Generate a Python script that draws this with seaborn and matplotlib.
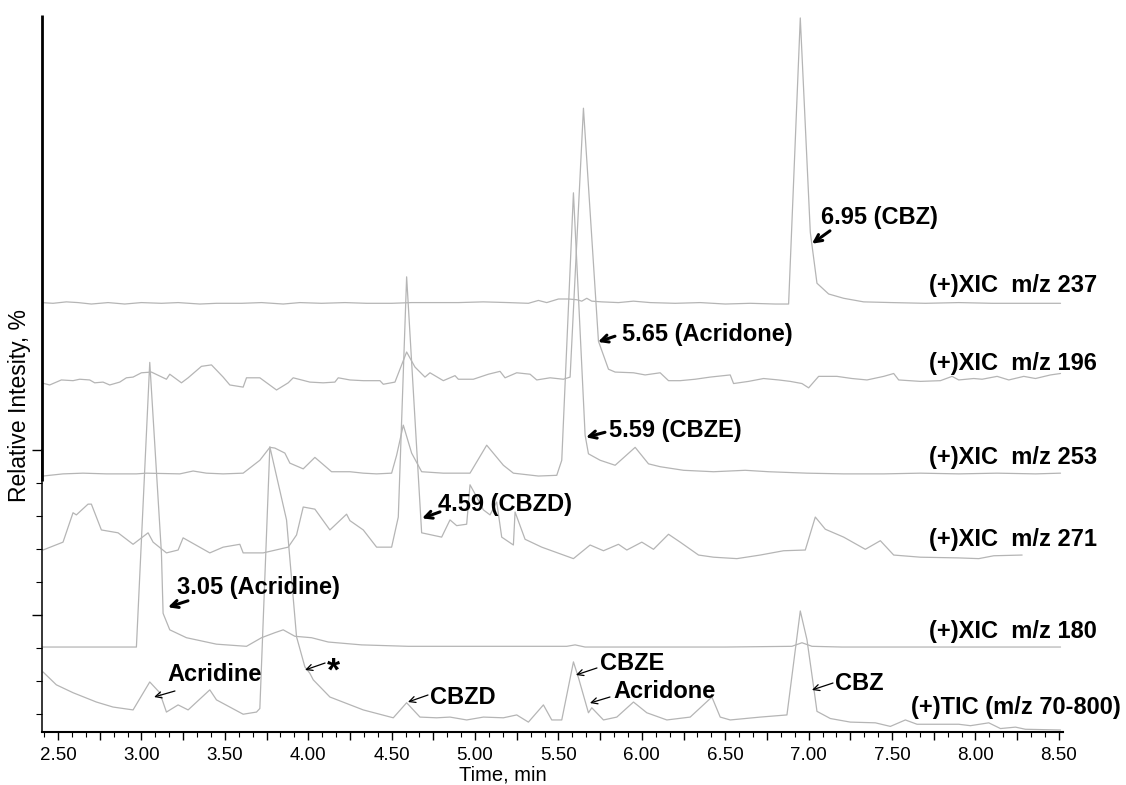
import matplotlib
matplotlib.use("Agg")
import matplotlib.pyplot as plt
from matplotlib.ticker import MultipleLocator, FuncFormatter, FixedLocator
import pandas as pd
import seaborn as sns

# ---- chromatogram traces: (retention time in min, signal above the trace baseline) ----
xic_237 = [(2.40, 0.2), (2.47, 0.1), (2.55, 0.3), (2.62, 0.2), (2.70, 0.0), (2.80, 0.2),
           (2.90, 0.0), (3.00, 0.2), (3.12, 0.1), (3.22, 0.2), (3.35, 0.0), (3.45, 0.1),
           (3.60, 0.1), (3.72, 0.2), (3.85, 0.0), (3.95, 0.2), (4.08, 0.1), (4.22, 0.2),
           (4.35, 0.1), (4.50, 0.1), (4.62, 0.2), (4.75, 0.2), (4.90, 0.2), (5.05, 0.3),
           (5.20, 0.2), (5.32, 0.1), (5.38, 0.5), (5.43, 0.2), (5.50, 0.7), (5.56, 0.7),
           (5.61, 0.6), (5.64, 0.4), (5.67, 0.8), (5.70, 0.4), (5.76, 0.3), (5.86, 0.2),
           (5.95, 0.4), (6.05, 0.2), (6.20, 0.1), (6.35, 0.2), (6.50, 0.0), (6.65, 0.1),
           (6.80, 0.0), (6.88, 0.0), (6.95, 39.9), (7.01, 10.0), (7.05, 2.9), (7.12, 1.4),
           (7.21, 0.8), (7.33, 0.3), (7.50, 0.2), (7.70, 0.1), (7.90, 0.2), (8.10, 0.1),
           (8.30, 0.1), (8.51, 0.1)]

xic_196 = [(2.40, 1.0), (2.45, 0.7), (2.52, 1.4), (2.59, 1.3), (2.63, 1.5), (2.69, 1.4),
           (2.72, 1.0), (2.77, 1.1), (2.81, 0.7), (2.87, 1.1), (2.91, 1.7), (2.95, 1.8),
           (3.00, 2.4), (3.06, 2.5), (3.15, 1.5), (3.17, 2.2), (3.24, 1.0), (3.28, 1.7),
           (3.36, 3.3), (3.42, 3.5), (3.49, 1.8), (3.53, 0.7), (3.61, 0.4), (3.63, 1.7),
           (3.71, 1.7), (3.81, 0.0), (3.88, 1.0), (3.91, 1.7), (4.01, 1.1), (4.09, 1.0),
           (4.16, 1.1), (4.18, 1.7), (4.25, 1.4), (4.33, 1.3), (4.43, 1.3), (4.45, 0.8),
           (4.52, 1.1), (4.59, 5.3), (4.64, 3.2), (4.70, 1.8), (4.73, 2.4), (4.81, 1.3),
           (4.88, 2.0), (4.90, 1.5), (4.99, 1.5), (5.08, 2.2), (5.15, 2.6), (5.18, 1.7),
           (5.25, 2.4), (5.33, 2.2), (5.37, 1.4), (5.45, 1.7), (5.53, 1.5), (5.57, 1.8),
           (5.65, 39.3), (5.74, 6.8), (5.80, 2.9), (5.84, 2.5), (5.95, 2.4), (6.02, 2.1),
           (6.11, 2.4), (6.16, 1.3), (6.23, 1.3), (6.32, 1.5), (6.41, 1.8), (6.53, 2.1),
           (6.55, 0.9), (6.64, 1.2), (6.73, 1.6), (6.82, 1.4), (6.89, 1.2), (6.96, 0.9),
           (7.00, 0.3), (7.06, 1.9), (7.17, 1.9), (7.26, 1.6), (7.35, 1.4), (7.45, 1.9),
           (7.51, 2.3), (7.54, 1.4), (7.67, 1.2), (7.79, 1.3), (7.86, 1.9), (7.90, 1.4),
           (7.99, 1.6), (8.04, 1.5), (8.13, 1.9), (8.20, 1.4), (8.29, 1.9), (8.36, 1.6),
           (8.45, 2.1), (8.51, 2.3)]

xic_253 = [(2.41, 0.0), (2.53, 0.3), (2.65, 0.4), (2.79, 0.3), (2.97, 0.3), (3.03, 0.4),
           (3.23, 0.3), (3.31, 0.7), (3.39, 0.4), (3.49, 0.3), (3.61, 0.4), (3.71, 2.2),
           (3.77, 4.0), (3.80, 3.9), (3.86, 3.2), (3.89, 1.8), (3.97, 1.0), (4.04, 2.6),
           (4.14, 0.6), (4.25, 0.6), (4.33, 0.4), (4.41, 0.3), (4.50, 0.4), (4.53, 2.9),
           (4.57, 7.1), (4.62, 3.2), (4.68, 0.6), (4.81, 0.4), (4.97, 0.4), (5.07, 4.3),
           (5.17, 1.5), (5.23, 0.4), (5.38, 0.0), (5.49, 0.1), (5.52, 2.2), (5.59, 39.5),
           (5.66, 5.7), (5.68, 3.1), (5.75, 2.2), (5.84, 1.5), (5.96, 4.0), (6.04, 1.7),
           (6.11, 1.3), (6.25, 0.8), (6.43, 0.6), (6.62, 0.8), (6.76, 0.6), (6.99, 0.4),
           (7.21, 0.3), (7.45, 0.3), (7.67, 0.4), (7.90, 0.3), (8.13, 0.4), (8.36, 0.3),
           (8.51, 0.4)]

xic_271 = [(2.41, 3.2), (2.53, 4.3), (2.59, 8.4), (2.61, 8.1), (2.68, 9.6), (2.70, 9.6),
           (2.76, 6.0), (2.86, 5.6), (2.95, 4.0), (3.04, 5.6), (3.07, 4.3), (3.15, 2.8),
           (3.22, 3.2), (3.25, 4.9), (3.41, 2.8), (3.49, 3.6), (3.59, 4.0), (3.61, 2.8),
           (3.73, 2.8), (3.88, 3.6), (3.93, 5.3), (3.97, 9.2), (4.04, 8.9), (4.13, 6.0),
           (4.23, 8.2), (4.25, 7.3), (4.33, 6.0), (4.41, 3.6), (4.50, 3.6), (4.54, 7.8),
           (4.59, 41.3), (4.68, 5.6), (4.80, 5.0), (4.85, 7.4), (4.89, 6.6), (4.95, 6.8),
           (4.97, 12.3), (5.01, 10.6), (5.05, 8.8), (5.09, 8.1), (5.13, 9.9), (5.16, 5.0),
           (5.23, 3.9), (5.24, 8.5), (5.30, 4.7), (5.40, 3.6), (5.59, 2.0), (5.69, 3.9),
           (5.77, 3.1), (5.86, 4.0), (5.91, 3.2), (6.00, 4.3), (6.07, 3.3), (6.16, 5.4),
           (6.23, 4.3), (6.34, 2.5), (6.43, 2.2), (6.57, 2.0), (6.71, 2.5), (6.85, 3.1),
           (6.98, 3.2), (7.04, 7.8), (7.10, 6.1), (7.21, 5.0), (7.34, 3.3), (7.43, 4.5),
           (7.51, 2.5), (7.67, 2.2), (7.90, 2.1), (8.02, 2.0), (8.11, 2.4), (8.28, 2.5)]

xic_180 = [(2.40, 0.0), (2.70, 0.0), (2.97, 0.0), (3.05, 39.7), (3.12, 13.1), (3.13, 4.7),
           (3.17, 2.4), (3.27, 1.3), (3.45, 0.4), (3.63, 0.1), (3.72, 1.3), (3.80, 2.0),
           (3.85, 2.4), (3.92, 1.5), (4.02, 1.3), (4.12, 0.7), (4.32, 0.3), (4.60, 0.1),
           (5.00, 0.1), (5.55, 0.1), (5.60, 0.3), (5.66, 0.0), (6.50, 0.0), (6.90, 0.1),
           (6.96, 0.6), (7.02, 0.1), (7.20, 0.0), (8.51, 0.0)]

tic = [(2.41, 8.1), (2.49, 6.3), (2.59, 5.2), (2.73, 3.9), (2.83, 3.2), (2.95, 2.8),
       (3.05, 6.7), (3.11, 5.2), (3.15, 2.5), (3.22, 3.5), (3.28, 2.8), (3.41, 5.6),
       (3.45, 4.2), (3.53, 3.2), (3.61, 2.2), (3.69, 2.5), (3.71, 3.0), (3.77, 39.5),
       (3.87, 29.3), (3.93, 13.0), (3.98, 8.8), (4.01, 7.9), (4.03, 7.0), (4.13, 4.6),
       (4.33, 2.8), (4.51, 1.7), (4.59, 3.8), (4.67, 1.8), (4.77, 1.7), (4.85, 1.8),
       (4.95, 1.4), (5.05, 1.8), (5.17, 1.7), (5.25, 2.1), (5.32, 1.1), (5.41, 3.5),
       (5.46, 1.4), (5.52, 1.4), (5.59, 9.5), (5.62, 7.3), (5.68, 2.4), (5.70, 3.1),
       (5.77, 1.4), (5.85, 1.8), (5.95, 3.9), (6.03, 2.4), (6.15, 1.4), (6.29, 1.8),
       (6.42, 4.6), (6.47, 1.8), (6.53, 1.4), (6.71, 1.8), (6.87, 2.1), (6.95, 16.6),
       (6.99, 12.6), (7.03, 6.0), (7.05, 2.6), (7.13, 1.6), (7.25, 1.1), (7.40, 1.0),
       (7.49, 0.5), (7.58, 1.4), (7.65, 0.8), (7.79, 0.8), (7.90, 0.8), (7.97, 0.6),
       (8.08, 1.0), (8.15, 0.2), (8.24, 0.4), (8.30, 0.1), (8.51, 0.0)]

trace_names = ["(+)XIC  m/z 237", "(+)XIC  m/z 196", "(+)XIC  m/z 253",
               "(+)XIC  m/z 271", "(+)XIC  m/z 180", "(+)TIC (m/z 70-800)"]
trace_data = [xic_237, xic_196, xic_253, xic_271, xic_180, tic]

# vertical stacking of the traces and placement of their names
baselines = [59.69, 47.70, 35.70, 22.18, 11.85, 0.28]
name_x = [8.729, 8.729, 8.729, 8.729, 8.729, 8.873]
name_y = [62.34, 51.46, 38.22, 26.78, 13.95, 3.35]

# peak annotations: text, text anchor, arrow tail, arrow tip, heavy arrow?
peak_notes = [
    ("6.95 (CBZ)",      (7.074, 71.7), (7.128, 69.9), (7.020, 68.1), True),
    ("5.65 (Acridone)", (5.881, 55.4), (5.839, 55.2), (5.737, 54.4), True),
    ("5.59 (CBZE)",     (5.803, 42.1), (5.779, 41.8), (5.665, 41.1), True),
    ("4.59 (CBZD)",     (4.778, 31.7), (4.790, 30.7), (4.682, 29.8), True),
    ("3.05 (Acridine)", (3.213, 20.2), (3.279, 18.3), (3.159, 17.4), True),
    ("Acridine",        (3.153, 7.95), (3.201, 5.72), (3.076, 4.88), False),
    ("CBZD",            (4.730, 4.88), (4.718, 5.16), (4.598, 4.18), False),
    ("CBZE",            (5.749, 9.62), (5.731, 8.93), (5.605, 7.95), False),
    ("Acridone",        (5.827, 5.58), (5.809, 4.88), (5.689, 4.04), False),
    ("CBZ",             (7.158, 6.83), (7.146, 6.83), (7.020, 5.86), False),
]
star_note = ("*", (4.149, 8.3), (4.101, 9.62), (3.981, 8.65))

sns.set_theme(style="white")
plt.rcParams["font.family"] = ["Liberation Sans", "DejaVu Sans"]

rows = []
for name, pts, base in zip(trace_names, trace_data, baselines):
    for t, v in pts:
        rows.append({"trace": name, "time": t, "level": base + v})
df = pd.DataFrame(rows)

W, H = 1126, 785
fig = plt.figure(figsize=(W / 100, H / 100), dpi=100)
ax = fig.add_axes([42 / W, 53 / H, 1021 / W, 717 / H])

sns.lineplot(data=df, x="time", y="level", hue="trace",
             palette={n: "#b5b5b5" for n in trace_names},
             estimator=None, sort=False, legend=False, linewidth=0.9, ax=ax)

ax.set_xlim(2.404, 8.525)
ax.set_ylim(0, 100)
ax.set_xlabel("")
ax.set_ylabel("")
for side in ["top", "right", "left"]:
    ax.spines[side].set_visible(False)
ax.spines["bottom"].set_linewidth(1.5)
ax.spines["bottom"].set_color("black")

# time axis: labels every 0.5 min, ticks every 0.25 min and 5 s
ax.xaxis.set_major_locator(MultipleLocator(0.25))
ax.xaxis.set_minor_locator(MultipleLocator(1 / 12))
ax.xaxis.set_major_formatter(
    FuncFormatter(lambda v, p: f"{v:.2f}" if abs(v * 2 - round(v * 2)) < 1e-6 else ""))
ax.tick_params(axis="x", which="major", direction="out", length=6, width=1.0,
               pad=5, labelsize=13.5, bottom=True, colors="black")
ax.tick_params(axis="x", which="minor", direction="out", length=3.5, width=0.8,
               bottom=True, color="black")

# intensity axis: unlabeled ticks on the lower part
ytick_step, ytick_first = 4.6, 2.5
yticks = [ytick_first + k * ytick_step for k in range(9)]
ax.yaxis.set_major_locator(FixedLocator([yticks[3], yticks[8]]))
ax.yaxis.set_minor_locator(FixedLocator([y for i, y in enumerate(yticks) if i not in (3, 8)]))
ax.tick_params(axis="y", which="major", direction="out", length=7, width=1.0,
               left=True, labelleft=False, color="black")
ax.tick_params(axis="y", which="minor", direction="out", length=4, width=0.8,
               left=True, color="black")
ytr = ax.get_yaxis_transform()
ax.plot([0, 0], [35.0, 100], transform=ytr, color="black", lw=2.0, clip_on=False,
        solid_capstyle="butt")
ax.plot([0, 0], [0, 39.5], transform=ytr, color="black", lw=1.1, clip_on=False,
        solid_capstyle="butt")

# trace names
for name, x, y in zip(trace_names, name_x, name_y):
    ax.text(x, y, name, ha="right", va="center", fontsize=17, fontweight="bold",
            color="black", clip_on=False)

# peak annotations
for label, txy, tail, tip, heavy in peak_notes:
    ax.text(txy[0], txy[1], label, ha="left", va="center", fontsize=17,
            fontweight="bold", color="black")
    ax.annotate("", xy=tip, xytext=tail,
                arrowprops=dict(arrowstyle="->", color="black",
                                lw=2.2 if heavy else 0.9,
                                mutation_scale=13 if heavy else 11,
                                shrinkA=0, shrinkB=0))
s, sxy, stail, stip = star_note
ax.text(sxy[0], sxy[1], s, ha="center", va="center", fontsize=24, fontweight="bold",
        color="black")
ax.annotate("", xy=stip, xytext=stail,
            arrowprops=dict(arrowstyle="->", color="black", lw=0.9,
                            mutation_scale=11, shrinkA=0, shrinkB=0))

fig.text(20 / W, 1 - 405 / H, "Relative Intesity, %", rotation=90,
         ha="center", va="center", fontsize=16.5, color="black")
fig.text(503 / W, 1 - 775 / H, "Time, min", ha="center", va="center",
         fontsize=14.5, color="black")

fig.savefig("out.png", dpi=100, facecolor="white")
